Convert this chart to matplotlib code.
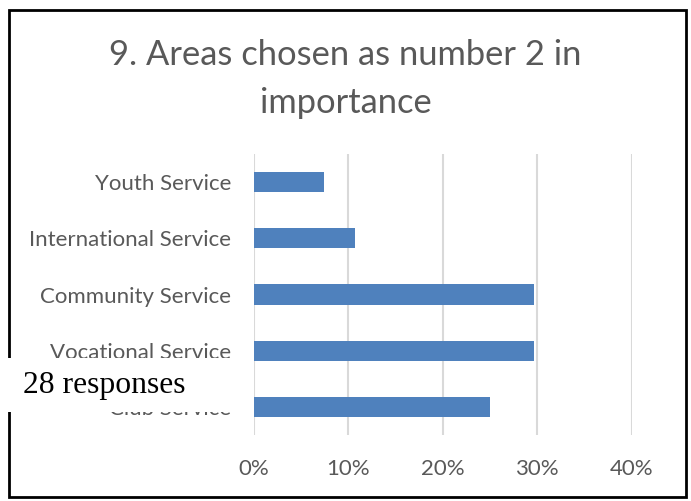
import matplotlib.pyplot as plt
from matplotlib.patches import Rectangle
from matplotlib.ticker import PercentFormatter

# survey results, top to bottom as drawn
areas = ["Youth Service", "International Service", "Community Service",
         "Vocational Service", "Club Service"]
shares = [0.074, 0.107, 0.297, 0.297, 0.250]
x_ticks = [0.0, 0.1, 0.2, 0.3, 0.4]
title = "9. Areas chosen as number 2 in\nimportance"
note = "28 responses"

W, H = 691, 501
fig = plt.figure(figsize=(W / 100, H / 100), dpi=100)
fig.patch.set_facecolor("white")

ax = fig.add_axes([254 / W, 1 - 435.2 / H, (631.7 - 254) / W, (435.2 - 153.9) / H])
ypos = list(range(len(areas)))
ax.barh(ypos, shares, height=0.36, color="#4F81BD", zorder=3)
ax.set_xlim(0, 0.4)
ax.set_ylim(len(areas) - 0.5, -0.5)
ax.set_xticks(x_ticks)
ax.xaxis.set_major_formatter(PercentFormatter(1.0, decimals=0))
ax.set_yticks(ypos)
ax.set_yticklabels(areas)
ax.grid(axis="x", color="#d9d9d9", linewidth=1.5, zorder=0)
for s in ax.spines.values():
    s.set_visible(False)
ax.tick_params(axis="both", length=0, colors="#595959", labelsize=16)
ax.tick_params(axis="y", pad=16.5)
ax.tick_params(axis="x", pad=17)
for lbl in ax.get_xticklabels() + ax.get_yticklabels():
    lbl.set_fontfamily("Lato")

fig.text(0.5, 1 - 79 / H, title, ha="center", va="center", fontsize=24.8,
         color="#595959", family="Lato", linespacing=1.6)

# chart frame
fig.patches.append(Rectangle((9 / W, 1 - 497 / H), 677 / W, 487 / H,
                             transform=fig.transFigure, fill=False,
                             edgecolor="black", linewidth=2, zorder=5))
# white label box laid over the frame
fig.patches.append(Rectangle((0, 1 - 412 / H), 253 / W, 54 / H,
                             transform=fig.transFigure, facecolor="white",
                             edgecolor="none", zorder=6))
fig.text(23 / W, 1 - 386 / H, note, ha="left", va="center", fontsize=22.8,
         family="Liberation Serif", color="black", zorder=7)

fig.savefig("out.png", dpi=100)
